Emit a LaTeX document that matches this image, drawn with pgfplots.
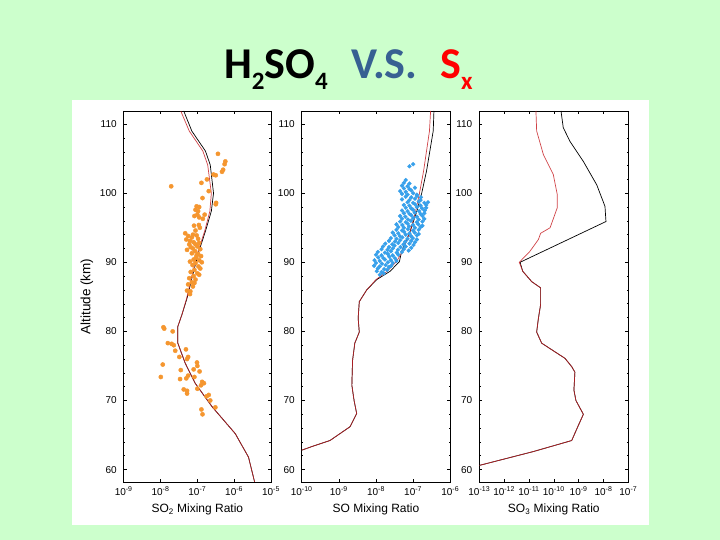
\documentclass[border=0pt]{standalone}
\usepackage{fontspec}
\setmainfont{Liberation Sans}
\newfontfamily\titlefont{Carlito}
\usepackage{pgfplots}
\pgfplotsset{compat=1.18}
\definecolor{bggreen}{RGB}{204,255,204}
\definecolor{vsblue}{RGB}{55,96,146}
\definecolor{dotorange}{RGB}{245,150,47}
\definecolor{dotblue}{RGB}{55,160,235}
\definecolor{curvered}{RGB}{200,35,40}
\pgfplotsset{
  sxpanel/.style={
    log basis x=10,
    /pgf/number format/assume math mode=true,
    scale only axis, height=371pt,
    anchor=south west,
    ymin=58.2, ymax=111.9,
    ytick={60,70,80,90,100,110}, minor y tick num=4,
    axis line style={line width=0.9pt},
    every tick/.style={black, line width=0.5pt},
    major tick length=3pt, minor tick length=1.6pt,
    xticklabel={10\textsuperscript{\pgfmathparse{int(round(\tick))}\pgfmathresult}},
    xticklabel style={font=\fontsize{10}{11}\selectfont, yshift=-1.5pt},
    yticklabel style={font=\fontsize{10}{11}\selectfont, xshift=-3.5pt},
    xlabel style={font=\fontsize{12}{14}\selectfont, yshift=-1.5pt},
    ylabel style={font=\fontsize{13.5}{15}\selectfont},
  },
  sxblk/.style={black, line width=0.7pt, no markers},
  sxrdl/.style={curvered, line width=0.7pt, no markers, opacity=0.85},
}
\begin{document}
\begin{tikzpicture}[x=1pt,y=1pt]
\fill[bggreen] (0,0) rectangle (720,540);
\path[use as bounding box] (0,0) rectangle (720,540);
\fill[white] (72.3,15) rectangle (649.3,440);

% title
\node[anchor=base west, inner sep=0, font={\titlefont\bfseries\fontsize{44}{50}\selectfont}] at (224,461.7)
  {H\raisebox{-11.5pt}{\fontsize{25}{25}\selectfont 2}SO\raisebox{-11.5pt}{\fontsize{25}{25}\selectfont 4}};
\node[anchor=base west, inner sep=0, text=vsblue, font={\titlefont\bfseries\fontsize{44}{50}\selectfont}] at (351,461.7) {V.S.};
\node[anchor=base west, inner sep=0, text=red, font={\titlefont\bfseries\fontsize{44}{50}\selectfont}] at (440,461.7)
  {S\raisebox{-11.5pt}{\fontsize{25}{25}\selectfont x}};

% ---------------- Panel 1: SO2 ----------------
\begin{semilogxaxis}[sxpanel, at={(123.7pt,58pt)}, width=147.3pt,
  xmin=1e-9, xmax=1e-5, xtick={1e-9,1e-8,1e-7,1e-6,1e-5},
  xlabel={SO\textsubscript{2} Mixing Ratio}, ylabel={Altitude (km)}]
\addplot[only marks, mark=*, mark size=2.1pt, color=dotorange] coordinates {
(1.95e-8,101.0) (3.63e-7,105.7) (5.75e-7,104.6) (5.50e-7,104.2) (5.01e-7,103.4)
(4.68e-7,103.1) (2.75e-7,102.7) (3.16e-7,102.6) (1.82e-7,102.0) (1.29e-7,101.5)
(2.04e-7,100.3) (1.38e-7,99.3) (3.24e-7,98.6) (3.16e-7,98.4) (9.55e-8,98.1)
(1.12e-7,98.0) (8.91e-8,97.6) (1.05e-7,97.4) (1.0e-7,96.9) (8.32e-8,96.7)
(1.12e-7,96.5) (1.58e-7,96.9) (1.41e-7,96.3) (1.10e-7,95.4) (1.17e-7,95.0)
(8.91e-8,94.6) (4.68e-8,94.2) (5.62e-8,93.8) (7.08e-8,93.6) (9.55e-8,93.9)
(1.05e-7,93.4) (6.31e-8,93.1) (7.94e-8,92.9) (8.91e-8,92.6) (1.12e-7,92.8)
(5.25e-8,91.8) (6.61e-8,92.2) (7.59e-8,92.0) (1.0e-7,92.3) (1.20e-7,91.9)
(8.71e-8,91.6) (7.08e-8,91.3) (1.05e-7,91.2) (1.26e-7,90.9) (9.33e-8,90.7)
(7.94e-8,90.4) (1.12e-7,90.3) (1.32e-7,90.0) (8.91e-8,89.9) (7.41e-8,89.6)
(1.07e-7,89.4) (1.20e-7,89.1) (8.32e-8,88.9) (6.61e-8,88.6) (1.0e-7,88.4)
(7.94e-8,88.0) (6.03e-8,87.7) (8.91e-8,87.5) (7.08e-8,87.1) (5.62e-8,86.8)
(7.59e-8,86.5) (6.46e-8,85.8) (5.25e-8,85.9) (6.31e-8,85.4) (8.32e-8,87.0)
(1.12e-7,88.2) (9.55e-8,91.0) (6.31e-8,90.1) (6.03e-8,92.6) (5.01e-8,93.3)
(7.59e-8,94.0) (8.13e-8,95.3)
(1.20e-8,80.6) (1.26e-8,80.4) (2.14e-8,80.0) (1.58e-8,78.3) (2.00e-8,78.2)
(2.29e-8,78.0) (2.51e-8,77.2) (4.90e-8,77.4) (5.62e-8,76.3) (3.24e-8,76.3)
(5.25e-8,76.0) (1.15e-8,75.2) (9.77e-8,75.5) (1.0e-7,75.0) (3.55e-8,74.4)
(7.94e-8,74.5) (1.15e-7,74.2) (1.02e-8,73.4) (3.39e-8,73.1) (5.01e-8,73.2)
(5.62e-8,73.6) (8.32e-8,73.4) (1.35e-7,72.7) (1.51e-7,72.5) (1.26e-7,72.2)
(4.27e-8,71.6) (5.25e-8,71.4) (5.25e-8,71.0) (1.0e-7,71.7) (2.04e-7,70.8)
(1.78e-7,70.6) (2.24e-7,70.0) (1.29e-7,68.7) (1.38e-7,68.0) (3.09e-7,69.0)
};
\addplot[sxblk] coordinates {
(4.27e-8,111.9) (7.08e-8,109.0) (1.66e-7,106.1) (2.24e-7,104.1) (2.75e-7,100.0)
(2.40e-7,97.4) (1.66e-7,94.5) (1.10e-7,91.6) (7.94e-8,88.7) (5.25e-8,84.8)
(3.80e-8,82.4) (2.95e-8,80.7) (2.95e-8,78.3) (4.68e-8,75.4) (8.71e-8,72.5)
(2.51e-7,69.1) (1.07e-6,65.2) (2.45e-6,61.8) (3.63e-6,58.1)
};
\addplot[sxrdl] coordinates {
(3.55e-8,111.9) (6.03e-8,109.0) (1.41e-7,106.1) (1.91e-7,104.1) (2.40e-7,100.0)
(2.19e-7,97.4) (1.58e-7,94.5) (1.05e-7,91.6) (7.59e-8,88.7) (5.13e-8,84.8)
(3.80e-8,82.4) (2.95e-8,80.7) (2.95e-8,78.3) (4.68e-8,75.4) (8.71e-8,72.5)
(2.51e-7,69.1) (1.07e-6,65.2) (2.45e-6,61.8) (3.63e-6,58.1)
};
\end{semilogxaxis}

% ---------------- Panel 2: SO ----------------
\begin{semilogxaxis}[sxpanel, at={(301.7pt,58pt)}, width=148.6pt,
  xmin=1e-10, xmax=1e-6, xtick={1e-10,1e-9,1e-8,1e-7,1e-6},
  xlabel={SO Mixing Ratio}]
\addplot[only marks, mark=*, mark size=1.9pt, color=dotblue] coordinates {
(1.26e-8,88.2) (1.62e-8,88.4)
(1.05e-8,88.7) (1.41e-8,88.6) (2.00e-8,88.9)
(1.12e-8,89.1) (1.66e-8,89.0) (2.24e-8,89.3)
(8.91e-9,89.5) (1.26e-8,89.4) (1.82e-8,89.6) (2.57e-8,89.5)
(1e-8,89.9) (1.45e-8,89.8) (2.09e-8,90.0) (2.82e-8,89.9)
(9.12e-9,90.3) (1.26e-8,90.2) (1.74e-8,90.4) (2.51e-8,90.3) (3.55e-8,90.2)
(1.15e-8,90.7) (1.58e-8,90.6) (2.29e-8,90.8) (3.24e-8,90.6)
(1e-8,91.1) (1.41e-8,91.0) (2.09e-8,91.2) (2.82e-8,91.0) (3.98e-8,91.1)
(1.12e-8,91.5) (1.74e-8,91.4) (2.51e-8,91.6) (3.63e-8,91.4) (5.01e-8,91.5)
(1.41e-8,91.9) (2.04e-8,91.8) (2.82e-8,92.0) (3.89e-8,91.8) (5.62e-8,91.9) (7.59e-8,91.7)
(1.55e-8,92.3) (2.24e-8,92.2) (3.16e-8,92.4) (4.57e-8,92.2) (6.31e-8,92.3) (8.91e-8,92.1)
(1.78e-8,92.7) (2.75e-8,92.6) (3.98e-8,92.8) (5.50e-8,92.6) (7.94e-8,92.7) (1.02e-7,92.5)
(2.24e-8,93.1) (3.24e-8,93.0) (4.47e-8,93.2) (6.17e-8,93.0) (8.91e-8,93.1) (1.12e-7,92.9)
(2.51e-8,93.5) (3.55e-8,93.4) (5.13e-8,93.6) (7.08e-8,93.4) (9.77e-8,93.5) (1.26e-7,93.3)
(3.16e-8,93.9) (4.37e-8,93.8) (6.31e-8,94.0) (8.71e-8,93.8) (1.26e-7,93.9)
(2.82e-8,94.3) (3.98e-8,94.2) (5.75e-8,94.4) (7.94e-8,94.2) (1.10e-7,94.3) (1.41e-7,94.1)
(3.55e-8,94.7) (5.01e-8,94.6) (7.24e-8,94.8) (1.00e-7,94.6) (1.41e-7,94.7)
(3.98e-8,95.1) (5.62e-8,95.0) (7.76e-8,95.2) (1.12e-7,95.0) (1.58e-7,95.1)
(3.55e-8,95.5) (5.13e-8,95.4) (7.08e-8,95.6) (1.00e-7,95.4) (1.38e-7,95.5) (1.78e-7,95.3)
(4.47e-8,95.9) (6.31e-8,95.8) (8.71e-8,96.0) (1.26e-7,95.8) (1.78e-7,95.9)
(5.01e-8,96.3) (7.24e-8,96.2) (1.00e-7,96.4) (1.41e-7,96.2) (2.00e-7,96.3)
(4.47e-8,96.7) (6.17e-8,96.6) (8.91e-8,96.8) (1.26e-7,96.6) (1.78e-7,96.7)
(5.62e-8,97.1) (7.94e-8,97.0) (1.10e-7,97.2) (1.58e-7,97.0) (2.00e-7,97.1)
(5.01e-8,97.5) (7.08e-8,97.4) (1.00e-7,97.6) (1.45e-7,97.4) (2.04e-7,97.5)
(6.31e-8,97.9) (8.91e-8,97.8) (1.26e-7,98.0) (1.74e-7,97.8) (2.24e-7,97.9)
(5.62e-8,98.3) (7.94e-8,98.2) (1.12e-7,98.4) (1.58e-7,98.2) (2.24e-7,98.3)
(7.08e-8,98.7) (1.00e-7,98.6) (1.41e-7,98.8) (2.00e-7,98.6) (2.51e-7,98.7)
(5.01e-8,99.1) (7.94e-8,99.0) (1.12e-7,99.2) (1.58e-7,99.0)
(6.31e-8,99.5) (8.91e-8,99.4) (1.26e-7,99.6) (1.62e-7,99.4)
(5.01e-8,99.9) (7.08e-8,99.8) (1.00e-7,100.0) (1.26e-7,99.8)
(4.47e-8,100.3) (6.31e-8,100.2) (8.91e-8,100.4)
(5.62e-8,100.7) (7.94e-8,100.6) (1.12e-7,100.8)
(5.01e-8,101.1) (7.08e-8,101.0)
(5.62e-8,101.5) (7.94e-8,101.4)
(6.31e-8,101.9)
(7.94e-8,103.9) (1.00e-7,104.2)
};
\addplot[sxblk] coordinates {
(3.63e-7,111.9) (3.47e-7,109.0) (2.29e-7,103.2) (1.70e-7,100.0) (1.26e-7,97.4)
(8.32e-8,94.5) (4.90e-8,91.6) (4.27e-8,90.1) (2.40e-8,88.7) (1.05e-8,87.5)
(5.62e-9,86.0) (3.55e-9,84.3) (3.31e-9,81.9) (3.55e-9,79.9) (2.69e-9,78.3)
(2.34e-9,75.8) (2.24e-9,72.2) (2.57e-9,70.0) (3.02e-9,68.1) (2.00e-9,66.2)
(5.75e-10,64.2) (2.04e-10,63.4) (1.0e-10,62.8)
};
\addplot[sxrdl] coordinates {
(2.95e-7,111.9) (2.75e-7,109.0) (1.91e-7,103.2) (1.48e-7,100.0) (1.17e-7,97.4)
(8.32e-8,94.5) (5.25e-8,91.6) (3.55e-8,90.1) (2.00e-8,88.7) (1.00e-8,87.5)
(5.62e-9,86.0) (3.55e-9,84.3) (3.31e-9,81.9) (3.55e-9,79.9) (2.69e-9,78.3)
(2.34e-9,75.8) (2.24e-9,72.2) (2.57e-9,70.0) (3.02e-9,68.1) (2.00e-9,66.2)
(5.75e-10,64.2) (2.04e-10,63.4) (1.0e-10,62.8)
};
\end{semilogxaxis}

% ---------------- Panel 3: SO3 ----------------
\begin{semilogxaxis}[sxpanel, at={(479.3pt,58pt)}, width=149pt,
  xmin=1e-13, xmax=1e-7, xtick={1e-13,1e-12,1e-11,1e-10,1e-9,1e-8,1e-7},
  xlabel={SO\textsubscript{3} Mixing Ratio}]
\addplot[sxblk] coordinates {
(1.95e-10,111.9) (2.40e-10,109.5) (4.47e-10,107.5) (1.55e-9,104.6) (5.37e-9,101.2)
(1.15e-8,98.1) (1.26e-8,95.9) (4.37e-12,90.0)
(5.62e-12,88.7) (1.29e-11,87.2) (2.95e-11,86.3) (2.95e-11,83.9) (2.40e-11,81.9)
(2.04e-11,79.9) (3.24e-11,78.3) (7.08e-11,77.5) (2.82e-10,76.1) (5.25e-10,74.9)
(7.08e-10,74.1) (6.46e-10,71.5) (7.76e-10,70.0) (1.55e-9,68.0) (9.77e-10,66.4)
(5.25e-10,64.2) (1.48e-11,62.6) (1.0e-13,60.6)
};
\addplot[sxrdl] coordinates {
(1.91e-11,111.9) (2.04e-11,109.0) (3.80e-11,105.6) (9.55e-11,102.7) (1.38e-10,99.8)
(1.38e-10,97.9) (7.08e-11,95.0) (2.95e-11,94.2) (2.40e-11,93.3) (1.10e-11,91.6)
(4.07e-12,90.0) (5.62e-12,88.7) (1.29e-11,87.2) (2.95e-11,86.3) (2.95e-11,83.9)
(2.40e-11,81.9) (2.04e-11,79.9) (3.24e-11,78.3) (7.08e-11,77.5) (2.82e-10,76.1)
(5.25e-10,74.9) (7.08e-10,74.1) (6.46e-10,71.5) (7.76e-10,70.0) (1.55e-9,68.0)
(9.77e-10,66.4) (5.25e-10,64.2) (1.48e-11,62.6) (1.0e-13,60.6)
};
\end{semilogxaxis}
\end{tikzpicture}
\end{document}
